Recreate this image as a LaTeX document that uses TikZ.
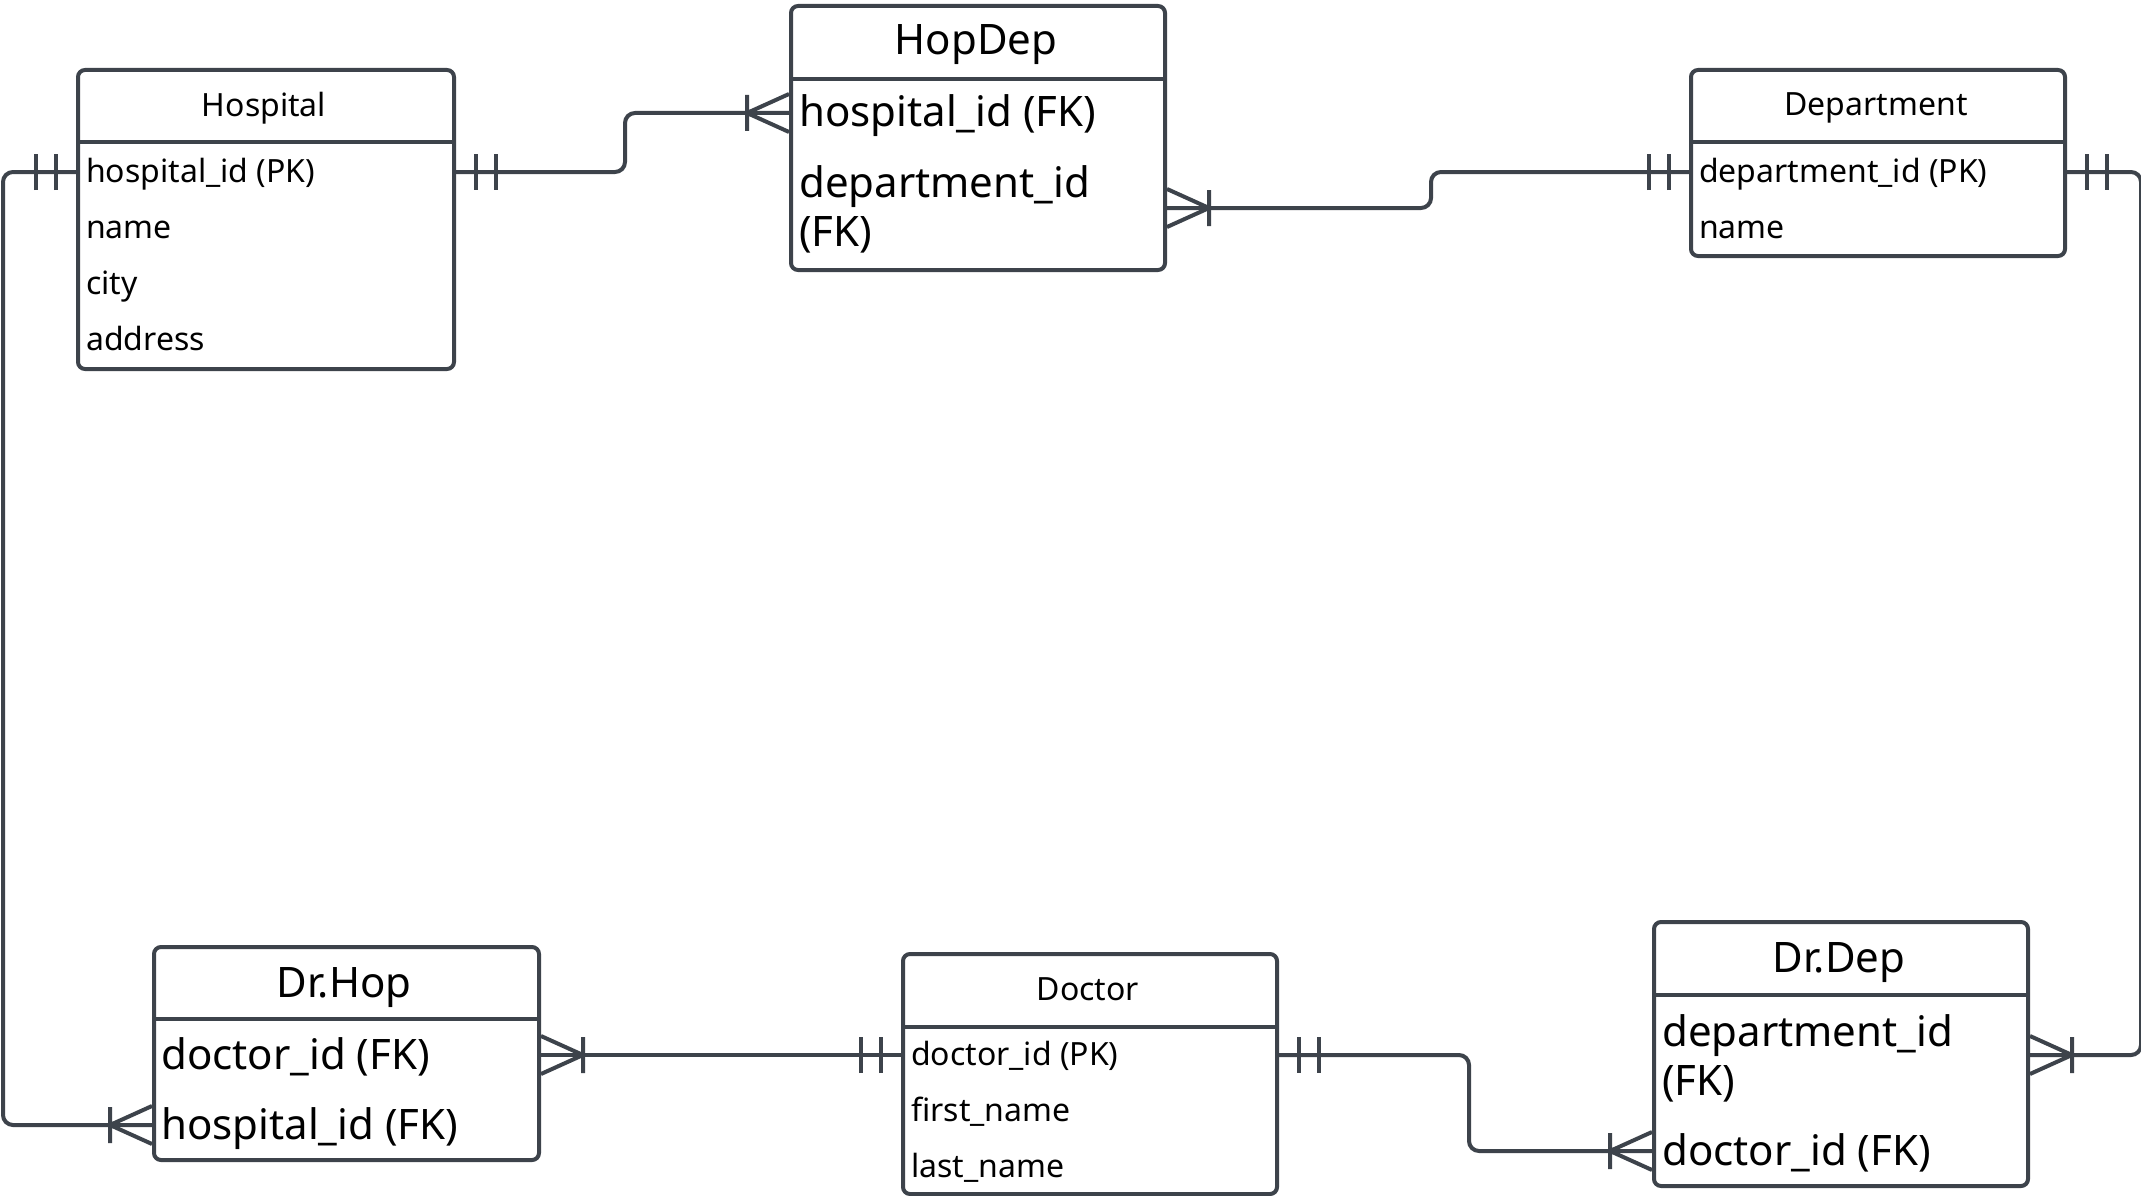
\documentclass[tikz,border=0pt]{standalone}
\usepackage{fontspec}
\setmainfont{Noto Sans}
\usepackage{xcolor}
\usepackage{tikz}

\definecolor{erline}{HTML}{3D434B}

\tikzset{
	tbl/.style={draw=erline, line width=4pt, rounded corners=7pt, anchor=north west, inner sep=0pt},
	ttl/.style={anchor=base, font=\fontsize{32}{38}\selectfont},
	bigttl/.style={anchor=base, font=\fontsize{42}{50}\selectfont},
	row/.style={anchor=base west, inner sep=0pt, font=\fontsize{32}{38}\selectfont},
	bigrow/.style={anchor=base west, inner sep=0pt, align=left, font=\fontsize{42}{49}\selectfont},
	divider/.style={draw=erline, line width=4pt},
	conn/.style={draw=erline, line width=4pt, rounded corners=10pt},
	one/.pic={\draw[erline, line width=4pt] (20,-18) -- (20,18) (40,-18) -- (40,18);},
	many/.pic={\draw[erline, line width=4pt] (42,-18) -- (42,18) (0,-19) -- (42,0) -- (0,19);}
}

\begin{document}
\begin{tikzpicture}[x=1pt, y=-1pt]
		\useasboundingbox (0,0) rectangle (2141,1196);
		% tables
		\node[tbl, minimum width=376, minimum height=299] (hosp) at (76,68) {};
		\node[ttl] (hosp-t) at (264,117) {Hospital};
		\draw[divider] (hosp.north west) ++(0,74) -- ++(376,0);
		\node[row] (hosp-id) at (86,182) {hospital\_id (PK)};
		\node[row] (hosp-name) at (86,238) {name};
		\node[row] (hosp-city) at (86,294) {city};
		\node[row] (hosp-addr) at (86,350) {address};
		%
		\node[tbl, minimum width=374, minimum height=264] (hopdep) at (789,4) {};
		\node[bigttl] (hopdep-t) at (976,55) {HopDep};
		\draw[divider] (hopdep.north west) ++(0,75) -- ++(374,0);
		\node[bigrow] (hopdep-h) at (799,127) {hospital\_id (FK)};
		\node[bigrow] (hopdep-d) at (799,246) {department\_id\\(FK)};
		%
		\node[tbl, minimum width=374, minimum height=186] (dept) at (1689,68) {};
		\node[ttl] (dept-t) at (1876,116) {Department};
		\draw[divider] (dept.north west) ++(0,74) -- ++(374,0);
		\node[row] (dept-id) at (1699,182) {department\_id (PK)};
		\node[row] (dept-name) at (1699,238) {name};
		%
		\node[tbl, minimum width=385, minimum height=213] (drhop) at (152,945) {};
		\node[bigttl] (drhop-t) at (344,997) {Dr.Hop};
		\draw[divider] (drhop.north west) ++(0,74) -- ++(385,0);
		\node[bigrow] (drhop-d) at (161,1069) {doctor\_id (FK)};
		\node[bigrow] (drhop-h) at (161,1139) {hospital\_id (FK)};
		%
		\node[tbl, minimum width=374, minimum height=240] (doctor) at (901,952) {};
		\node[ttl] (doctor-t) at (1088,1000) {Doctor};
		\draw[divider] (doctor.north west) ++(0,75) -- ++(374,0);
		\node[row] (doctor-id) at (911,1065) {doctor\_id (PK)};
		\node[row] (doctor-first) at (911,1121) {first\_name};
		\node[row] (doctor-last) at (911,1177) {last\_name};
		%
		\node[tbl, minimum width=374, minimum height=264] (drdep) at (1652,920) {};
		\node[bigttl] (drdep-t) at (1839,972) {Dr.Dep};
		\draw[divider] (drdep.north west) ++(0,75) -- ++(374,0);
		\node[bigrow] (drdep-dep) at (1662,1095) {department\_id\\(FK)};
		\node[bigrow] (drdep-d) at (1662,1165) {doctor\_id (FK)};
		%
		% relationships
		\draw[conn] (hosp.east |- 0,172) -- ++(169,0) |- (hopdep.west |- 0,113);
		\draw[conn] (hopdep.east |- 0,208) -- ++(264,0) |- (dept.west |- 0,172);
		\draw[conn] (hosp.west |- 0,172) -- ++(-73,0) |- (drhop.west |- 0,1125);
		\draw[conn] (drhop.east |- 0,1055) -- (doctor.west |- 0,1055);
		\draw[conn] (doctor.east |- 0,1055) -- ++(190,0) |- (drdep.west |- 0,1151);
		\draw[conn] (dept.east |- 0,172) -- ++(74,0) |- (drdep.east |- 0,1055);
		%
		\pic at (hosp.east |- 0,172) {one};
		\pic[rotate=180] at (hopdep.west |- 0,113) {many};
		\pic at (hopdep.east |- 0,208) {many};
		\pic[rotate=180] at (dept.west |- 0,172) {one};
		\pic[rotate=180] at (hosp.west |- 0,172) {one};
		\pic[rotate=180] at (drhop.west |- 0,1125) {many};
		\pic at (drhop.east |- 0,1055) {many};
		\pic[rotate=180] at (doctor.west |- 0,1055) {one};
		\pic at (doctor.east |- 0,1055) {one};
		\pic[rotate=180] at (drdep.west |- 0,1151) {many};
		\pic at (dept.east |- 0,172) {one};
		\pic at (drdep.east |- 0,1055) {many};
		\end{tikzpicture}
\end{document}
